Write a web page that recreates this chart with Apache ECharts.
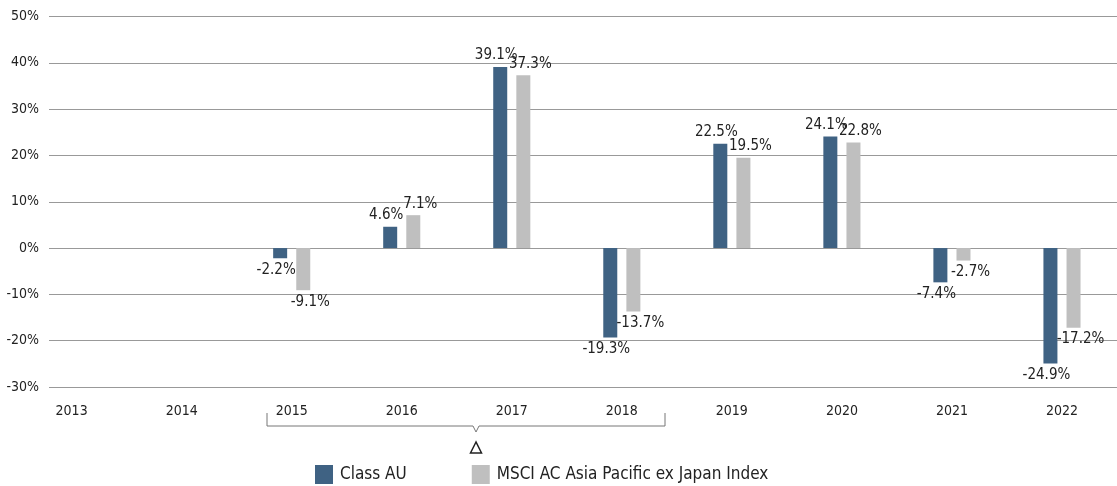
<!DOCTYPE html>
<html>
<head>
<meta charset="utf-8">
<script src="https://cdn.jsdelivr.net/npm/echarts@6/dist/echarts.min.js"></script>
<style>
  html, body { margin: 0; padding: 0; background: #fff; }
  #chart { width: 1117px; height: 486px; }
</style>
</head>
<body>
<div id="chart"></div>
<script>
var years = ['2013', '2014', '2015', '2016', '2017', '2018', '2019', '2020', '2021', '2022']
var classAU = [null, null, -2.2, 4.6, 39.1, -19.3, 22.5, 24.1, -7.4, -24.9]
var msciIndex = [null, null, -9.1, 7.1, 37.3, -13.7, 19.5, 22.8, -2.7, -17.2]
var seriesNames = ['Class AU', 'MSCI AC Asia Pacific ex Japan Index']

var font = "'Liberation Sans Narrow', 'DejaVu Sans Condensed', 'Roboto', sans-serif"

function pct(p) {
    return p.value == null ? '' : p.value.toFixed(1) + '%'
}

// positive values label on top, negative ones below
function withLabels(values, dx) {
    return values.map(function (v) {
        return {
            value: v,
            label: { position: v < 0 ? 'bottom' : 'top', offset: [dx, 0] }
        }
    })
}

var chart = echarts.init(document.getElementById('chart'))

chart.setOption({
    animation: false,
    textStyle: { fontFamily: font },
    color: ['#3f6283', '#bfbfbf'],
    grid: [
        { left: 49, right: 0, top: 16.5, bottom: 99 },
        { left: 16.6, right: -6.6, top: 16.5, bottom: 99 }
    ],
    xAxis: [
        { gridIndex: 0, type: 'category', data: years, show: false },
        {
            gridIndex: 1,
            type: 'category',
            data: years,
            axisLine: { show: false },
            axisTick: { show: false },
            axisLabel: { margin: 17, fontSize: 14, color: '#222', fontFamily: font }
        }
    ],
    yAxis: [
        {
            gridIndex: 0,
            type: 'value',
            min: -30,
            max: 50,
            interval: 10,
            axisLine: { show: false },
            axisTick: { show: false },
            axisLabel: {
                margin: 10,
                fontSize: 14,
                color: '#222',
                fontFamily: font,
                formatter: '{value}%'
            },
            splitLine: { lineStyle: { color: '#999', width: 1 } }
        },
        { gridIndex: 1, type: 'value', min: -30, max: 50, interval: 10, show: false }
    ],
    legend: {
        left: 310,
        top: 460,
        itemWidth: 18,
        itemHeight: 19,
        itemGap: 65,
        icon: 'rect',
        textStyle: { fontSize: 17, color: '#222', fontFamily: font, padding: [0, 0, 0, 2] },
        data: seriesNames
    },
    series: [
        {
            name: seriesNames[0],
            type: 'bar',
            xAxisIndex: 1,
            yAxisIndex: 1,
            barWidth: 14,
            barGap: '65%',
            data: withLabels(classAU, -4),
            label: { show: true, formatter: pct, fontSize: 15, color: '#222', fontFamily: font, distance: 4 }
        },
        {
            name: seriesNames[1],
            type: 'bar',
            xAxisIndex: 1,
            yAxisIndex: 1,
            barWidth: 14,
            data: withLabels(msciIndex, 7),
            label: { show: true, formatter: pct, fontSize: 15, color: '#222', fontFamily: font, distance: 4 }
        }
    ],
    graphic: [
        {
            type: 'polyline',
            shape: { points: [[267, 413], [267, 426], [473, 426], [476, 432], [479, 426], [665, 426], [665, 413]] },
            style: { stroke: '#777', lineWidth: 1, fill: null }
        },
        {
            type: 'polygon',
            shape: { points: [[476, 442], [470.5, 453], [481.5, 453]] },
            style: { stroke: '#222', lineWidth: 1.5, fill: '#fff' }
        }
    ]
})
</script>
</body>
</html>
